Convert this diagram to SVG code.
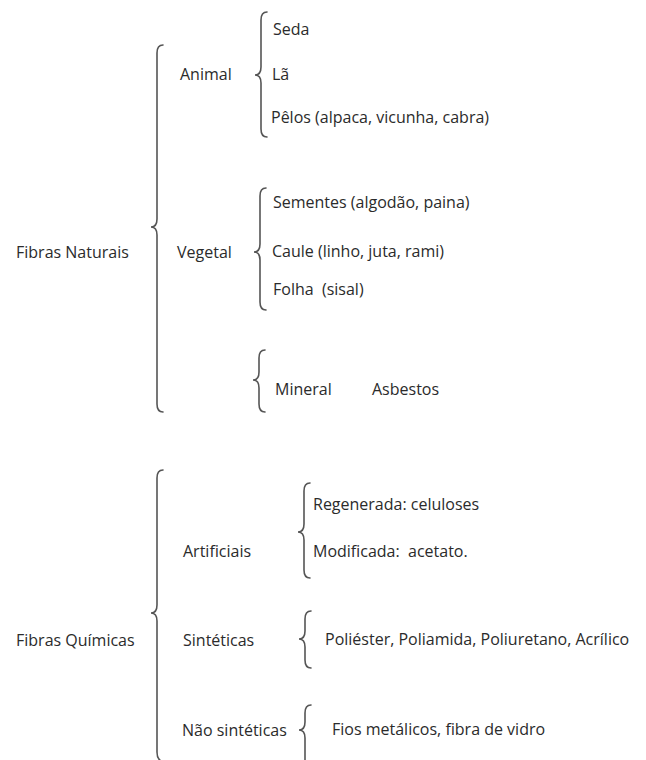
<svg xmlns="http://www.w3.org/2000/svg" width="646" height="760" viewBox="0 0 646 760">
<style>
text{font-family:"Open Sans","Liberation Sans",sans-serif;font-size:16px;fill:#2b2b2b}
.br{fill:none;stroke:#555;stroke-width:1.6;stroke-linecap:round}
</style>
<rect width="646" height="760" fill="#fff"/>
<g id="connectors">
<path class="br" d="M163 45 Q157 45 157 53 L157 219 Q157 227 151 227 Q157 227 157 235 L157 404 Q157 412 163 412"/>
<path class="br" d="M267 12 Q261 12 261 20 L261 67 Q261 75 255 75 Q261 75 261 83 L261 129 Q261 137 267 137"/>
<path class="br" d="M266 188 Q260 188 260 196 L260 244 Q260 252 254 252 Q260 252 260 260 L260 302 Q260 310 266 310"/>
<path class="br" d="M265 350 Q259 350 259 358 L259 372 Q259 380 253 380 Q259 380 259 388 L259 404 Q259 412 265 412"/>
<path class="br" d="M163 470 Q157 470 157 478 L157 605 Q157 613 151 613 Q157 613 157 621 L157 752 Q157 760 163 762"/>
<path class="br" d="M310 483 Q304 483 304 491 L304 524 Q304 532 298 532 Q304 532 304 540 L304 570 Q304 578 310 578"/>
<path class="br" d="M311 611 Q305 611 305 619 L305 631 Q305 639 299 639 Q305 639 305 647 L305 660 Q305 668 311 668"/>
<path class="br" d="M311 705 Q305 705 305 713 L305 722 Q305 730 299 730 Q305 730 305 738 L305 765"/>
</g>
<g id="fibras-naturais"><text x="16" y="258">Fibras Naturais</text></g>
<g id="animal"><text x="180" y="80">Animal</text></g>
<g id="seda"><text x="273" y="35">Seda</text></g>
<g id="la"><text x="272" y="80">Lã</text></g>
<g id="pelos"><text x="271" y="123">Pêlos (alpaca, vicunha, cabra)</text></g>
<g id="vegetal"><text x="177" y="258">Vegetal</text></g>
<g id="sementes"><text x="273" y="208">Sementes (algodão, paina)</text></g>
<g id="caule"><text x="272" y="257">Caule (linho, juta, rami)</text></g>
<g id="folha"><text x="273" y="295" xml:space="preserve">Folha  (sisal)</text></g>
<g id="mineral"><text x="275" y="395">Mineral</text></g>
<g id="asbestos"><text x="372" y="395">Asbestos</text></g>
<g id="fibras-quimicas"><text x="16" y="646">Fibras Químicas</text></g>
<g id="artificiais"><text x="183" y="557">Artificiais</text></g>
<g id="regenerada"><text x="313" y="510">Regenerada: celuloses</text></g>
<g id="modificada"><text x="313" y="557" xml:space="preserve">Modificada:  acetato.</text></g>
<g id="sinteticas"><text x="183" y="646">Sintéticas</text></g>
<g id="poliester"><text x="325" y="645">Poliéster, Poliamida, Poliuretano, Acrílico</text></g>
<g id="nao-sinteticas"><text x="182" y="736">Não sintéticas</text></g>
<g id="fios"><text x="332" y="735">Fios metálicos, fibra de vidro</text></g>
</svg>
